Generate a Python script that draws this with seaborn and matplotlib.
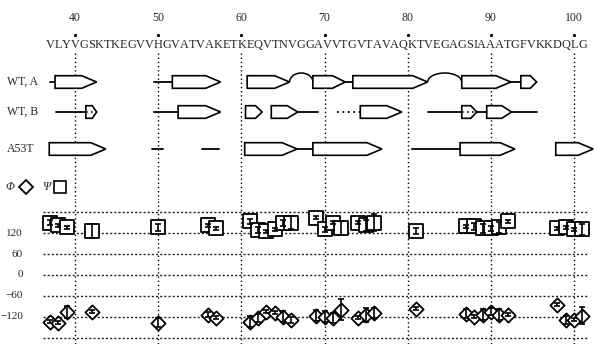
import matplotlib
matplotlib.use("Agg")
import matplotlib.pyplot as plt
import seaborn as sns
from matplotlib.patches import Polygon, Arc

# residue sequence shown on top (first letter = residue 37)
sequence = "VLYVGSKTKEGVVHGVATVAKETKEQVTNVGGAVVTGVTAVAQKTVEGAGSIAAATGFVKKDQLG"
seq_start = 37
tick_residues = [40, 50, 60, 70, 80, 90, 100]

# secondary structure rows (start, end residue)
wta_strands = [(37.6, 42.6), (51.7, 57.5), (60.7, 65.8), (68.6, 72.5),
               (73.4, 82.4), (86.5, 92.4), (93.6, 95.5)]
wta_lines = [(37.0, 37.6), (49.5, 51.7), (72.5, 73.4), (92.4, 93.6)]
wta_arcs = [(65.8, 68.6), (82.4, 86.5)]

wtb_strands = [(52.4, 57.5), (60.5, 62.5), (63.6, 66.8), (74.3, 79.3), (89.5, 92.5)]
wtb_dotted_strands = [(41.3, 42.6), (86.5, 88.3)]
wtb_lines = [(37.7, 41.3), (49.5, 52.4), (66.8, 69.2), (82.4, 86.5),
             (88.3, 89.5), (92.5, 95.6)]
wtb_dotted_lines = [(71.5, 74.3)]

a53t_strands = [(36.9, 43.7), (60.4, 66.7), (68.6, 76.9), (86.3, 92.9), (97.8, 102.3)]
a53t_lines = [(49.3, 50.6), (55.3, 57.3), (66.7, 68.6), (80.5, 86.3)]

# backbone angles
phi_res = [37, 38, 39, 42, 50, 56, 57, 61, 62, 63, 64, 65, 66, 69, 70, 71, 72,
           74, 75, 76, 81, 87, 88, 89, 90, 91, 92, 98, 99, 100, 101]
phi = [-134, -137, -106, -106, -137, -114, -123, -134, -123, -106, -109, -120,
       -129, -117, -120, -123, -100, -123, -114, -109, -97, -111, -120, -114,
       -106, -114, -114, -86, -129, -129, -117]
phi_err = [4, 4, 18, 4, 12, 8, 4, 15, 12, 4, 4, 15, 8, 15, 15, 15, 30, 4, 20,
           15, 4, 13, 4, 15, 10, 15, 4, 4, 12, 4, 25]

psi_res = [37, 38, 39, 42, 50, 56, 57, 61, 62, 63, 64, 65, 66, 69, 70, 71, 72,
           74, 75, 76, 81, 87, 88, 89, 90, 91, 92, 98, 99, 100, 101]
psi = [151, 143, 137, 126, 137, 143, 134, 154, 129, 126, 131, 149, 151, 165,
       131, 151, 134, 151, 143, 151, 126, 140, 140, 134, 134, 137, 154, 134,
       137, 131, 131]
psi_err = [6, 4, 4, 20, 10, 4, 4, 8, 8, 4, 4, 8, 20, 4, 8, 4, 20, 4, 15, 25,
           8, 4, 10, 12, 8, 15, 4, 4, 4, 4, 15]

angle_ticks = [120, 60, 0, -60, -120]
grid_levels = [180, 120, 60, 0, -60, -120, -180]

sns.set_style("white")
plt.rcParams["font.family"] = ["Liberation Serif", "DejaVu Serif"]

W, H = 599, 344
fig = plt.figure(figsize=(W / 100, H / 100), dpi=100)
xlim = (30.98, 103.0)
split = 200  # pixel row where the angle panel starts
px = (xlim[1] - xlim[0]) / W  # residues per pixel

top = fig.add_axes([0, 1 - split / H, 1, split / H])
top.set_xlim(*xlim)
top.set_ylim(split, 0)
top.axis("off")

bot = fig.add_axes([0, 0, 1, 1 - split / H])
bot.set_xlim(*xlim)
bot.set_ylim(-198.6, 215.8)
bot.axis("off")

dot = (0, (1, 2))
fs = 8.5

# numbers, dots and sequence
for r in tick_residues:
    top.text(r, 18, str(r), ha="center", va="center", fontsize=fs)
    top.plot([r], [35], marker="o", ms=1.3, color="black")
    top.plot([r, r], [53, split], color="black", lw=1, ls=dot)
    bot.axvline(r, color="black", lw=1, ls=dot)

# sequence: one text per residue, laid out like proportional type
letters = [top.text(0, 45, ch, ha="left", va="center", fontsize=fs) for ch in sequence]
fig.canvas.draw()
renderer = fig.canvas.get_renderer()
widths = [t.get_window_extent(renderer).width for t in letters]
seq_left, seq_right = seq_start - 0.55, seq_start + len(sequence) - 0.45
scale = (seq_right - seq_left) / (sum(widths) * px)
xpos = seq_left
for t, w in zip(letters, widths):
    t.set_fontsize(fs * scale)
    t.set_x(xpos)
    xpos += w * scale * px

# row labels
rows = {"WT, A": 82, "WT, B": 112, "A53T": 149}
for lab, yc in rows.items():
    top.text(31.8, yc, lab, ha="left", va="center", fontsize=fs)

hh = 6.3  # half height of strand arrows in px


def strand(ax, s, e, yc, dotted=False):
    head = min(1.8, 0.4 * (e - s))
    pts = [(s, yc - hh), (e - head, yc - hh), (e, yc), (e - head, yc + hh), (s, yc + hh)]
    ax.add_patch(Polygon(pts, closed=True, facecolor="white", edgecolor="black",
                         lw=1.2, zorder=3))
    if dotted:
        ax.plot([s, e - 0.3], [yc, yc], color="black", lw=1.2, ls=dot, zorder=4)


def line(ax, s, e, yc, dotted=False):
    ax.plot([s, e], [yc, yc], color="black", lw=1.3, ls=dot if dotted else "-", zorder=2)


yA, yB, yC = rows["WT, A"], rows["WT, B"], rows["A53T"]
for s, e in wta_lines:
    line(top, s, e, yA)
for s, e in wta_strands:
    strand(top, s, e, yA)
for s, e in wta_arcs:
    top.add_patch(Arc(((s + e) / 2, yA), e - s, 18, theta1=180, theta2=360,
                      color="black", lw=1.1))

for s, e in wtb_lines:
    line(top, s, e, yB)
for s, e in wtb_dotted_lines:
    line(top, s, e, yB, dotted=True)
for s, e in wtb_strands:
    strand(top, s, e, yB)
for s, e in wtb_dotted_strands:
    strand(top, s, e, yB, dotted=True)

for s, e in a53t_lines:
    line(top, s, e, yC)
for s, e in a53t_strands:
    strand(top, s, e, yC)

# legend
top.text(32.2, 187, "Φ", ha="center", va="center", fontsize=fs, style="italic")
top.plot([34.1], [187], marker="D", ms=7, mfc="white", mec="black", mew=1.3)
top.text(36.6, 187, "Ψ", ha="center", va="center", fontsize=fs, style="italic")
top.plot([38.2], [187], marker="s", ms=8.5, mfc="white", mec="black", mew=1.2)

# angle grid and tick labels
bot.hlines(grid_levels, 36.2, 101.7, colors="#222222", lw=1, linestyles=[(0, (1.5, 1.5))])
for t in angle_ticks:
    lab = str(t).replace("-", "\u2212")
    bot.text(33.75, t, lab, ha="right", va="center", fontsize=8)

sns.scatterplot(x=psi_res, y=psi, marker="s", s=88, color="white",
                edgecolor="black", linewidth=1.3, ax=bot, zorder=3, legend=False)
bot.errorbar(psi_res, psi, yerr=psi_err, fmt="none", ecolor="black",
             elinewidth=1.2, capsize=2.2, capthick=1.2, zorder=4)
sns.scatterplot(x=phi_res, y=phi, marker="D", s=52, color="white",
                edgecolor="black", linewidth=1.3, ax=bot, zorder=3, legend=False)
bot.errorbar(phi_res, phi, yerr=phi_err, fmt="none", ecolor="black",
             elinewidth=1.2, capsize=2.2, capthick=1.2, zorder=4)
bot.set_xlim(*xlim)
bot.set_ylim(-198.6, 215.8)

fig.savefig("out.png", dpi=100)
